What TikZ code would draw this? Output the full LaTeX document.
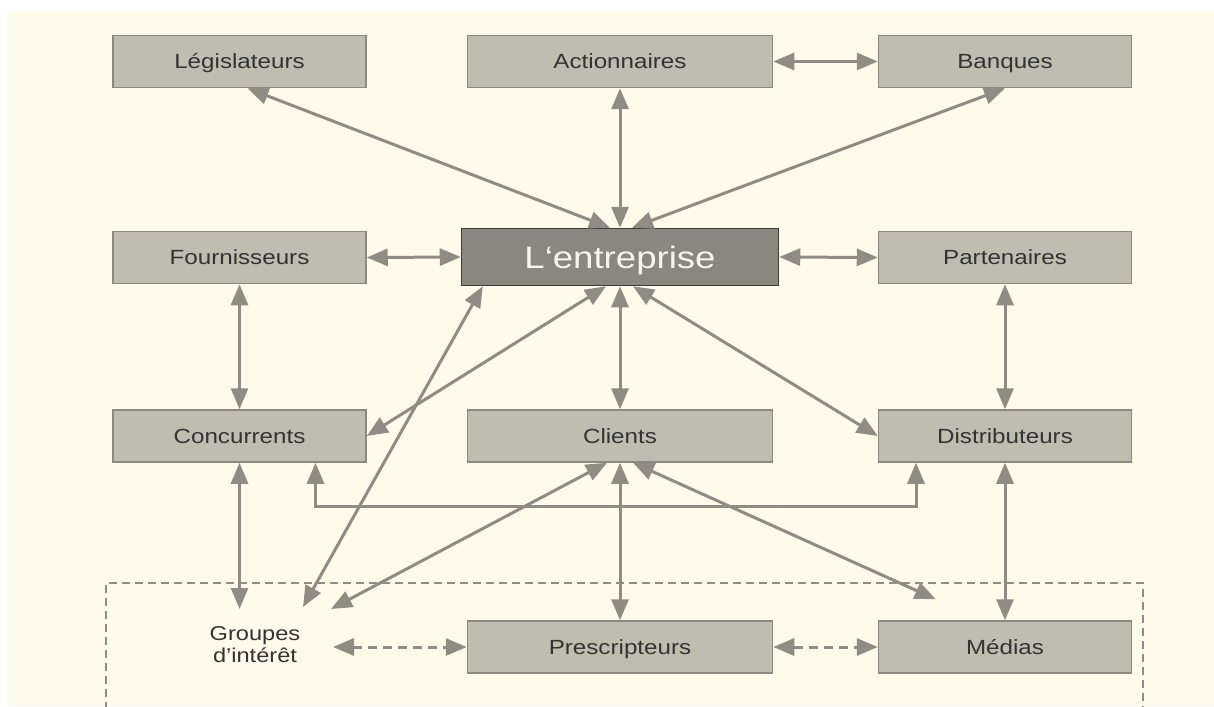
\documentclass[tikz,border=0pt]{standalone}
\usepackage{fontspec}
\setmainfont{Liberation Sans}[FakeStretch=1.18]
\usetikzlibrary{arrows.meta}
\definecolor{paper}{HTML}{FEFBEB}
\definecolor{boxfill}{HTML}{BFBDB0}
\definecolor{boxline}{HTML}{8C8A80}
\definecolor{entfill}{HTML}{8A887E}
\definecolor{entline}{HTML}{3C3C38}
\definecolor{linkc}{HTML}{8E8C83}
\definecolor{ink}{HTML}{333331}
\definecolor{entink}{HTML}{F7F5EA}
\begin{document}
\begin{tikzpicture}[x=1pt,y=-1pt,
  box/.style={draw=boxline, fill=boxfill, line width=1.5pt, minimum width=253pt,
    minimum height=52pt, inner sep=0pt, text=ink, text height=14.8pt, text depth=0pt,
    font=\fontsize{20.5}{24}\selectfont},
  widebox/.style={box, minimum width=305pt},
  core/.style={draw=entline, fill=entfill, line width=1.5pt, minimum width=317pt,
    minimum height=57pt, inner sep=0pt, text=entink, text height=22.3pt, text depth=0pt,
    font=\fontsize{31}{36}\selectfont},
  link/.style={draw=linkc, line width=3pt, {Triangle[length=21pt,width=17pt]}-{Triangle[length=21pt,width=17pt]}},
  dlink/.style={link, dash pattern=on 9pt off 6pt},
  frame/.style={draw=linkc, line width=1.5pt, dash pattern=on 8pt off 5pt}]
  % paper and page margins
  \useasboundingbox (0,0) rectangle (1214,706);
  \fill[white] (0,0) rectangle (1214,706);
  \fill[paper] (7,11) rectangle (1214,706);

  % stakeholder boxes
  \node[box]     (leg)  at (239.5,61.5) {Législateurs};
  \node[widebox] (act)  at (620,61.5)   {Actionnaires};
  \node[box]     (ban)  at (1005,61.5)  {Banques};
  \node[box]     (four) at (239.5,257.5) {Fournisseurs};
  \node[core]    (ent)  at (620,257)    {L‘entreprise};
  \node[box]     (part) at (1005,257.5) {Partenaires};
  \node[box]     (conc) at (239.5,436)  {Concurrents};
  \node[widebox] (cli)  at (620,436)    {Clients};
  \node[box]     (dist) at (1005,436)   {Distributeurs};
  \node[widebox] (pres) at (620,647)    {Prescripteurs};
  \node[box]     (med)  at (1005,647)   {Médias};
  \node[text=ink, align=center, font=\fontsize{20}{22}\selectfont] (grp) at (255,645)
    {Groupes\\d’intérêt};

  % arrow ends around the interest groups and the media box
  \coordinate (gA) at ([shift={(-15.5,-36)}]grp.center);
  \coordinate (gB) at ([shift={(48,-38)}]grp.center);
  \coordinate (gC) at ([shift={(76,-36)}]grp.center);
  \coordinate (gD) at ([shift={(78,2)}]grp.center);
  \coordinate (mA) at ([shift={(58,-21)}]med.north west);

  % indirect environment frame
  \draw[frame] (106,710) -- (106,583) -- (1143,583) -- (1143,710);

  % links to the company
  \draw[link] ([xshift=8]leg.south) -- ([xshift=-10]ent.north);
  \draw[link] (act.south) -- (ent.north);
  \draw[link] (ban.south) -- ([xshift=12]ent.north);
  \draw[link] (act.east) -- (ban.west);
  \draw[link] (four.east) -- (ent.west);
  \draw[link] (ent.east) -- (part.west);
  \draw[link] ([xshift=-14]ent.south) -- (conc.east);
  \draw[link] (ent.south) -- (cli.north);
  \draw[link] ([xshift=13]ent.south) -- (dist.west);
  \draw[link] ([xshift=22]ent.south west) -- (gB);

  % links between stakeholders
  \draw[link] (four.south) -- (conc.north);
  \draw[link] (part.south) -- (dist.north);
  \draw[link] ([xshift=76]conc.south) -- ++(0,44) -| ([xshift=-89]dist.south);
  \draw[link] (conc.south) -- (gA);
  \draw[link] ([xshift=-13]cli.south) -- (gC);
  \draw[link] (cli.south) -- (pres.north);
  \draw[link] ([xshift=13]cli.south) -- (mA);
  \draw[link] (dist.south) -- (med.north);
  \draw[dlink] (gD) -- (pres.west);
  \draw[dlink] (pres.east) -- (med.west);
\end{tikzpicture}
\end{document}
